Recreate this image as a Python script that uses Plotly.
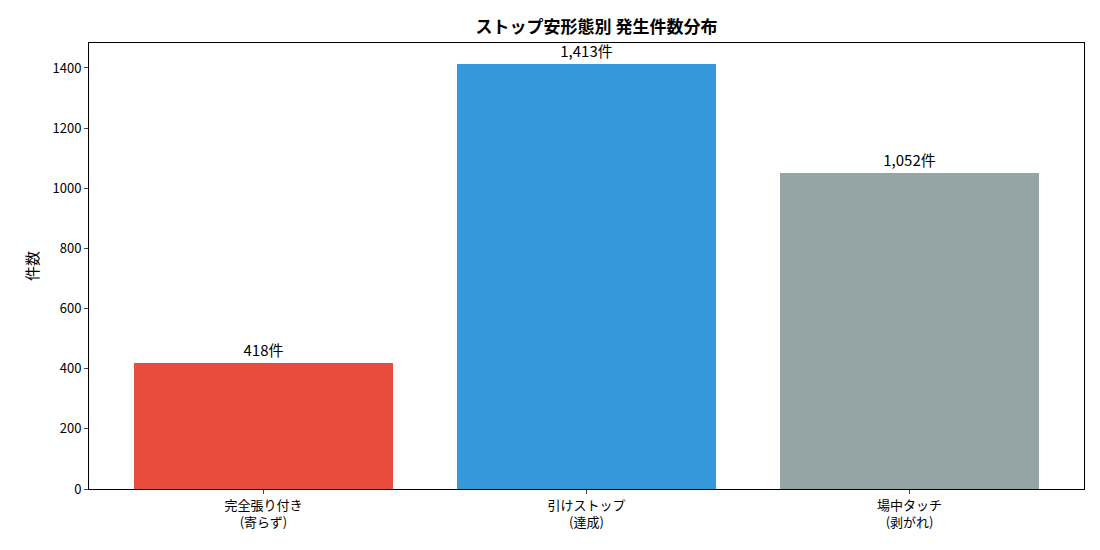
import plotly.graph_objects as go

categories = ["完全張り付き<br>(寄らず)", "引けストップ<br>(達成)", "場中タッチ<br>(剥がれ)"]
counts = [418, 1413, 1052]
colors = ["#e74c3c", "#3498db", "#95a5a6"]
labels = [f"{c:,}件" for c in counts]

fig = go.Figure(go.Bar(
    x=list(range(len(categories))), y=counts, width=0.8,
    marker=dict(color=colors, line=dict(width=0)),
    text=labels, textposition="outside", cliponaxis=False,
    textfont=dict(size=15, color="black"),
))

fig.update_layout(
    width=1100, height=550,
    paper_bgcolor="white", plot_bgcolor="white",
    font=dict(family="Noto Sans CJK JP", size=13, color="black"),
    title=dict(text="<b>ストップ安形態別 発生件数分布</b>", x=0.535, xanchor="center",
               y=0.965, yanchor="middle", font=dict(size=17)),
    margin=dict(l=81, r=24, t=35, b=69),
    showlegend=False, bargap=0,
    xaxis=dict(range=[-0.54, 2.54], tickvals=list(range(len(categories))),
               ticktext=categories, showline=True, linecolor="black", mirror=True,
               ticks="outside", ticklen=4, showgrid=False),
    yaxis=dict(range=[0, 1483], dtick=200, showline=True, linecolor="black", mirror=True,
               ticks="outside", ticklen=4, showgrid=False, zeroline=False,
               title=dict(text="件数", font=dict(size=15), standoff=10)),
)

fig.write_html("out.html")
